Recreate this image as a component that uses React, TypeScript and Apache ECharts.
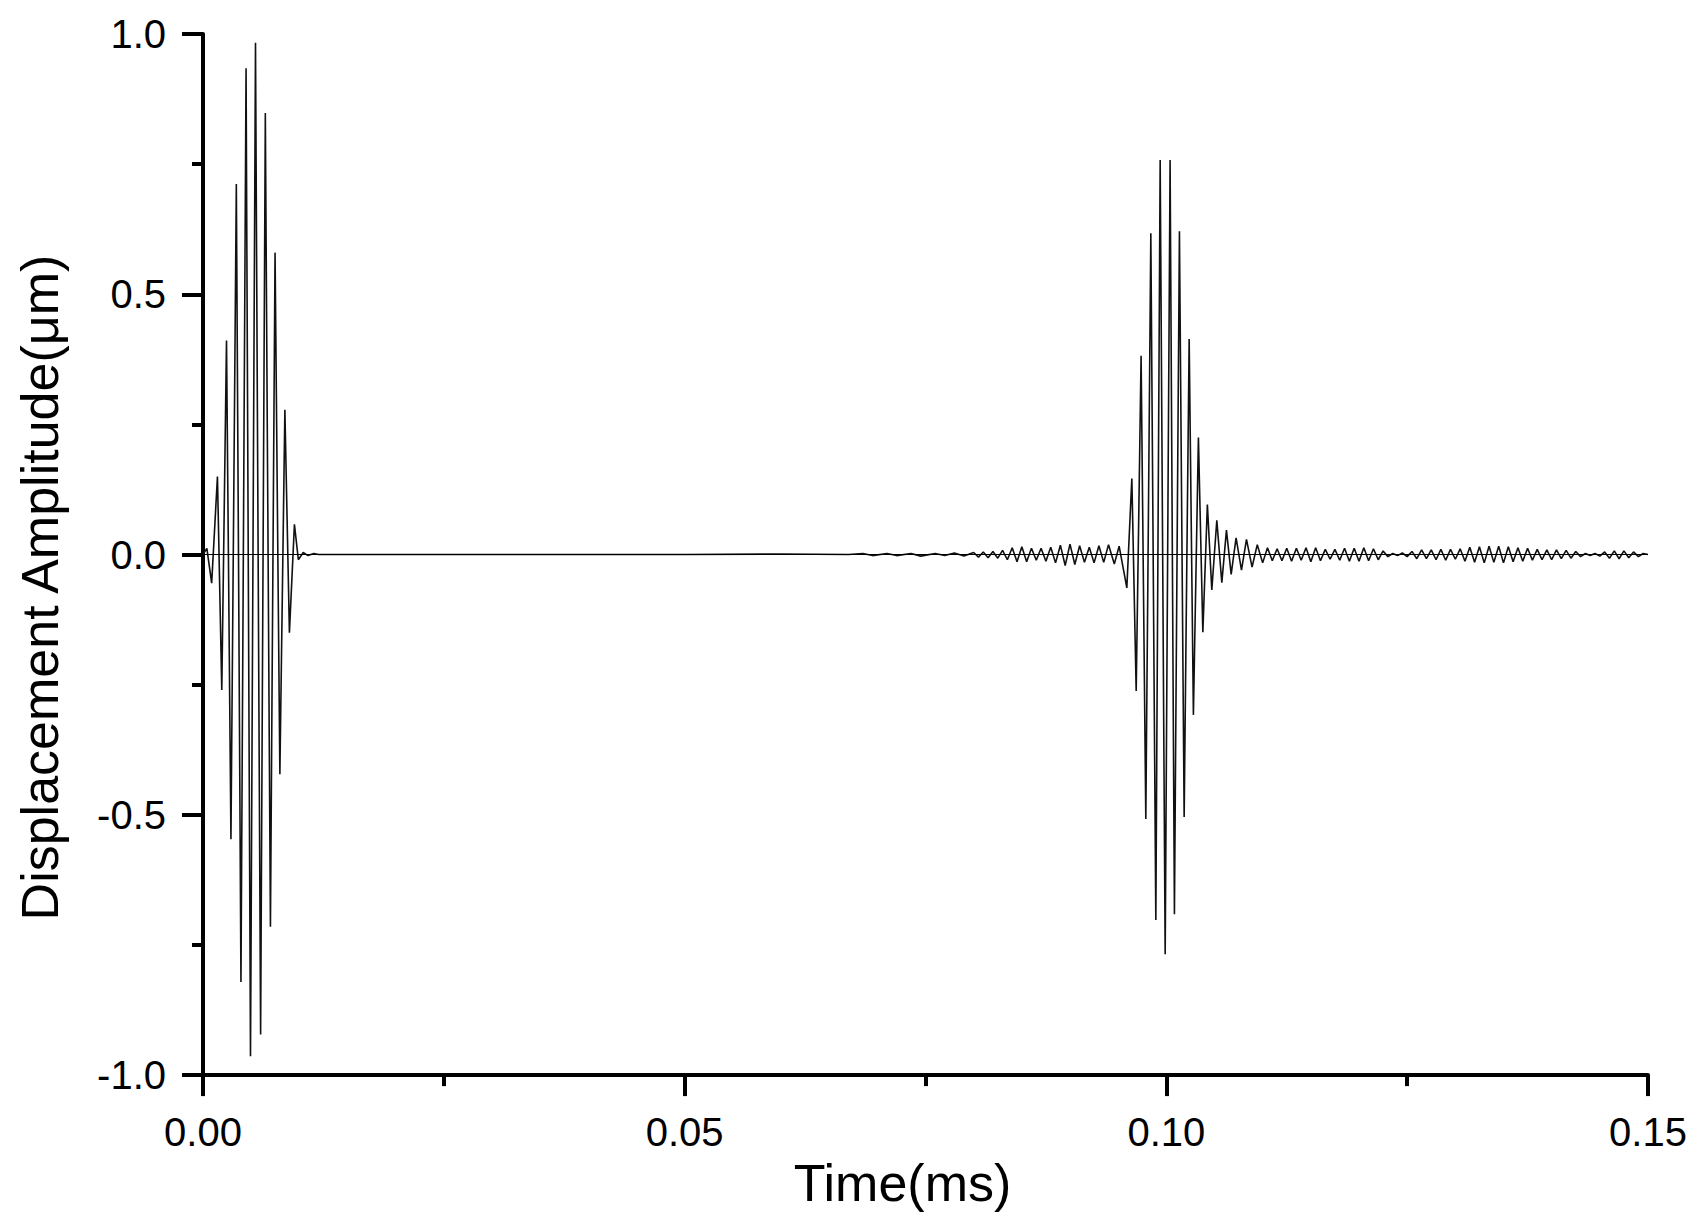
import React, { useEffect, useRef } from "react";
import * as echarts from "echarts";

// Time (ms) / displacement amplitude (µm) (extrema of the oscillation)
const burst1: [number, number][] = [
  [0.0, 0.0], [0.0004, 0.012], [0.0009, -0.055], [0.0015, 0.15], [0.00195, -0.26],
  [0.00244, 0.411], [0.0029, -0.547], [0.00346, 0.712], [0.00394, -0.821], [0.00447, 0.934],
  [0.00493, -0.964], [0.00545, 0.983], [0.00598, -0.922], [0.00647, 0.848], [0.007, -0.715],
  [0.00748, 0.58], [0.00798, -0.422], [0.0085, 0.278], [0.00897, -0.15], [0.00949, 0.058],
  [0.0099, -0.01], [0.0104, 0.004], [0.0109, -0.002], [0.0115, 0.002],
];

const quiet: [number, number][] = [
  [0.012, 0.0], [0.03, 0.0], [0.05, 0.0], [0.06, 0.001], [0.067, 0.0],
  [0.0685, 0.002], [0.0695, -0.002], [0.071, 0.002], [0.072, -0.002], [0.0735, 0.002],
  [0.0745, -0.003], [0.076, 0.002], [0.077, -0.002], [0.078, 0.003], [0.079, -0.003],
];

const preEcho: [number, number][] = [
  [0.08, 0.004], [0.0805, -0.005], [0.081, 0.005], [0.0815, -0.006], [0.082, 0.006],
  [0.0825, -0.007], [0.083, 0.008], [0.0835, -0.01], [0.084, 0.013], [0.0845, -0.014],
  [0.085, 0.015], [0.0855, -0.014], [0.086, 0.012], [0.0865, -0.011], [0.087, 0.012],
  [0.0875, -0.013], [0.088, 0.014], [0.0885, -0.016], [0.089, 0.018], [0.0895, -0.021],
  [0.09, 0.02], [0.0905, -0.019], [0.091, 0.017], [0.0915, -0.015], [0.092, 0.014],
  [0.0925, -0.016], [0.093, 0.017], [0.0935, -0.015], [0.094, 0.019],
];

const echo: [number, number][] = [
  [0.0946, -0.018], [0.0951, 0.016], [0.0959, -0.064], [0.09642, 0.146], [0.09687, -0.262],
  [0.09738, 0.382], [0.09787, -0.508], [0.09839, 0.617], [0.09891, -0.702], [0.09936, 0.758],
  [0.09988, -0.768], [0.10039, 0.758], [0.10084, -0.691], [0.10136, 0.621], [0.10185, -0.504],
  [0.10237, 0.414], [0.10281, -0.308], [0.10333, 0.225], [0.10379, -0.149], [0.10426, 0.096],
  [0.10472, -0.068], [0.10524, 0.066], [0.10576, -0.054], [0.10624, 0.047], [0.10673, -0.038],
  [0.10724, 0.032], [0.1078, -0.03], [0.10832, 0.029], [0.1089, -0.024], [0.10944, 0.019],
  [0.11, -0.016],
];

const tail: [number, number][] = [
  [0.1105, 0.013], [0.111, -0.012], [0.1115, 0.011], [0.112, -0.012], [0.1125, 0.012],
  [0.113, -0.013], [0.1135, 0.012], [0.114, -0.011], [0.1145, 0.013], [0.115, -0.014],
  [0.1155, 0.013], [0.116, -0.012], [0.1165, 0.01], [0.117, -0.009], [0.1175, 0.01],
  [0.118, -0.011], [0.1185, 0.012], [0.119, -0.013], [0.1195, 0.012], [0.12, -0.013],
  [0.1205, 0.013], [0.121, -0.012], [0.1215, 0.011], [0.122, -0.01], [0.1225, 0.007],
  [0.123, -0.004], [0.1235, 0.002], [0.124, -0.002], [0.1245, 0.003], [0.125, -0.004],
  [0.1255, 0.006], [0.126, -0.008], [0.1265, 0.009], [0.127, -0.008], [0.1275, 0.009],
  [0.128, -0.01], [0.1285, 0.01], [0.129, -0.011], [0.1295, 0.01], [0.13, -0.009],
  [0.1305, 0.011], [0.131, -0.013], [0.1315, 0.014], [0.132, -0.015], [0.1325, 0.015],
  [0.133, -0.016], [0.1335, 0.016], [0.134, -0.015], [0.1345, 0.016], [0.135, -0.016],
  [0.1355, 0.015], [0.136, -0.014], [0.1365, 0.013], [0.137, -0.013], [0.1375, 0.012],
  [0.138, -0.011], [0.1385, 0.01], [0.139, -0.01], [0.1395, 0.009], [0.14, -0.01],
  [0.1405, 0.009], [0.141, -0.008], [0.1415, 0.008], [0.142, -0.007], [0.1425, 0.006],
  [0.143, -0.004], [0.1435, 0.002], [0.144, -0.002], [0.1445, 0.002], [0.145, -0.003],
  [0.1455, 0.005], [0.146, -0.007], [0.1465, 0.007], [0.147, -0.008], [0.1475, 0.007],
  [0.148, -0.006], [0.1485, 0.005], [0.149, -0.004], [0.1495, 0.002], [0.15, 0.0],
];

const xTickLabels = ["0.00", "0.05", "0.10", "0.15"];
const yTickLabels = ["-1.0", "-0.5", "0.0", "0.5", "1.0"];

const FONT = "'Liberation Sans', Arial, sans-serif";

export default function App() {
  const ref = useRef<HTMLDivElement>(null);

  useEffect(() => {
    document.body.style.margin = "0";
    if (!ref.current) return;
    const chart = echarts.init(ref.current, undefined, { renderer: "svg" });
    const data = [...burst1, ...quiet, ...preEcho, ...echo, ...tail];

    const axisCommon = {
      axisLine: { show: true, onZero: false, lineStyle: { color: "#000", width: 4 } },
      axisTick: { show: true, inside: false, length: 21, lineStyle: { color: "#000", width: 4 } },
      minorTick: { show: true, splitNumber: 2, length: 11, lineStyle: { color: "#000", width: 4 } },
      splitLine: { show: false },
      minorSplitLine: { show: false },
    };

    chart.setOption({
      animation: false,
      backgroundColor: "#fff",
      grid: { left: 203, right: 60, top: 34, bottom: 130, containLabel: false },
      xAxis: {
        type: "value",
        min: 0,
        max: 0.15,
        interval: 0.05,
        ...axisCommon,
        axisLabel: {
          color: "#000",
          fontFamily: FONT,
          fontSize: 40,
          margin: 37,
          formatter: (v: number) => xTickLabels[Math.round(v / 0.05)] ?? v.toFixed(2),
        },
        name: "Time(ms)",
        nameLocation: "middle",
        nameGap: 63,
        nameTextStyle: { color: "#000", fontFamily: FONT, fontSize: 52, padding: [0, 46, 0, 0] },
      },
      yAxis: {
        type: "value",
        min: -1,
        max: 1,
        interval: 0.5,
        ...axisCommon,
        axisLabel: {
          color: "#000",
          fontFamily: FONT,
          fontSize: 40,
          margin: 37,
          formatter: (v: number) => yTickLabels[Math.round((v + 1) / 0.5)] ?? v.toFixed(1),
        },
        name: "Displacement Amplitude(\u03bcm)",
        nameLocation: "middle",
        nameGap: 137,
        nameTextStyle: { color: "#000", fontFamily: FONT, fontSize: 52, padding: [0, 66, 0, 0] },
      },
      series: [
        {
          type: "line",
          data,
          showSymbol: false,
          symbol: "none",
          lineStyle: { color: "#111", width: 1.6 },
          silent: true,
          markLine: {
            silent: true,
            symbol: ["none", "none"],
            label: { show: false },
            lineStyle: { color: "#000", width: 1, type: "solid" },
            data: [{ yAxis: 0 }],
          },
        },
      ],
    });

    return () => chart.dispose();
  }, []);

  return <div ref={ref} style={{ width: 1708, height: 1214 }} />;
}
